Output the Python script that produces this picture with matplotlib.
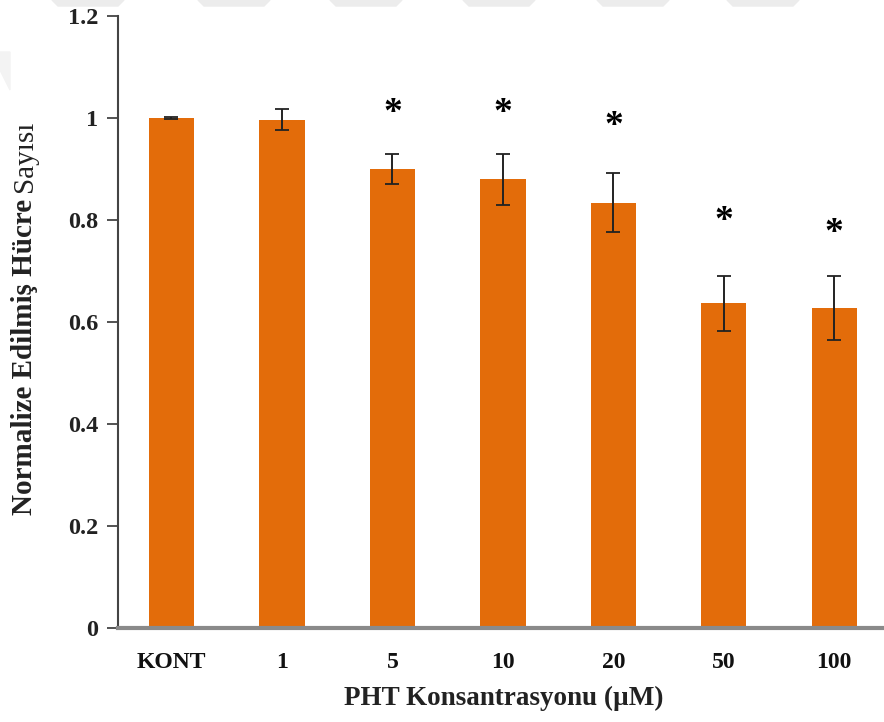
import matplotlib
matplotlib.use('Agg')
from matplotlib import pyplot as plt
from matplotlib.patches import Polygon
import numpy as np

categories = ['KONT', '1', '5', '10', '20', '50', '100']
means = [1.000, 0.997, 0.900, 0.880, 0.834, 0.637, 0.627]
errors = [0.002, 0.020, 0.030, 0.050, 0.058, 0.054, 0.063]
# asterisk heights (data units); None = no mark
star_y = [None, None, 1.02, 1.02, 0.995, 0.81, 0.785]
yticks = [0, 0.2, 0.4, 0.6, 0.8, 1, 1.2]
ytick_labels = ['0', '0.2', '0.4', '0.6', '0.8', '1', '1.2']

plt.rcParams['font.family'] = ['Liberation Serif', 'DejaVu Serif']

fig = plt.figure(figsize=(8.84, 7.22), dpi=100)
ax = fig.add_axes([118/884, 1 - 628/722, 1 - 118/884, (628 - 16)/722])

x = np.arange(len(categories))
ax.bar(x, means, width=0.41, color='#E36C0A', zorder=2)
ax.errorbar(x, means, yerr=errors, fmt='none', ecolor='#222222',
            elinewidth=1.4, capsize=5, capthick=1.3, zorder=3)

for xi, sy in zip(x, star_y):
    if sy is not None:
        ax.text(xi, sy - 0.012, '*', ha='center', va='center', fontsize=27,
                fontweight='bold', color='black')

ax.set_xlim(-0.484, 6.45)
ax.set_ylim(0, 1.2)
ax.set_yticks(yticks)
ax.set_yticklabels(ytick_labels, fontsize=17.5, fontweight='bold', color='#222222')
ax.set_xticks(x)
ax.set_xticklabels(categories, fontsize=17, fontweight='bold', color='#111111')
ax.tick_params(axis='x', length=0, pad=17)
ax.tick_params(axis='y', length=8, width=1.3, color='#444444', pad=6)

for s in ['top', 'right']:
    ax.spines[s].set_visible(False)
ax.spines['left'].set_color('#444444')
ax.spines['left'].set_linewidth(1.5)
ax.spines['bottom'].set_color('#8a8a8a')
ax.spines['bottom'].set_linewidth(3)
ax.spines['bottom'].set_zorder(4)

ax.set_xlabel('PHT Konsantrasyonu (µM)', fontsize=19.5, fontweight='bold', color='#222222')
ax.xaxis.set_label_coords(0.503, -0.094)

# y label: bold part + regular part
fig.canvas.draw()
r = fig.canvas.get_renderer()
t1 = fig.text(25/884, 0, 'Normalize Edilmiş Hücre ', rotation=90, ha='center',
              va='bottom', fontsize=21, fontweight='bold', color='#222222')
t2 = fig.text(25/884, 0, 'Sayısı', rotation=90, ha='center', va='bottom',
              fontsize=21, color='#222222')
h1 = t1.get_window_extent(r).height / fig.bbox.height
h2 = t2.get_window_extent(r).height / fig.bbox.height
y0 = (1 - 318/722) - (h1 + h2) / 2
t1.set_y(y0)
t2.set_y(y0 + h1)

# faint watermark shapes along the top edge
for xl in [52, 198, 330, 463, 597, 727]:
    pts = [(xl, 722), (xl + 72, 722), (xl + 66, 716), (xl + 6, 716)]
    fig.patches.append(Polygon([(px/884, py/722) for px, py in pts],
                               closed=True, transform=fig.transFigure,
                               color='#ececec', zorder=0))
fig.patches.append(Polygon([(0, 1 - 52/722), (10/884, 1 - 52/722), (10/884, 1 - 90/722), (0, 1 - 70/722)],
                           closed=True, transform=fig.transFigure,
                           color='#f3f3f3', zorder=0))

fig.savefig('out.png', dpi=100)
